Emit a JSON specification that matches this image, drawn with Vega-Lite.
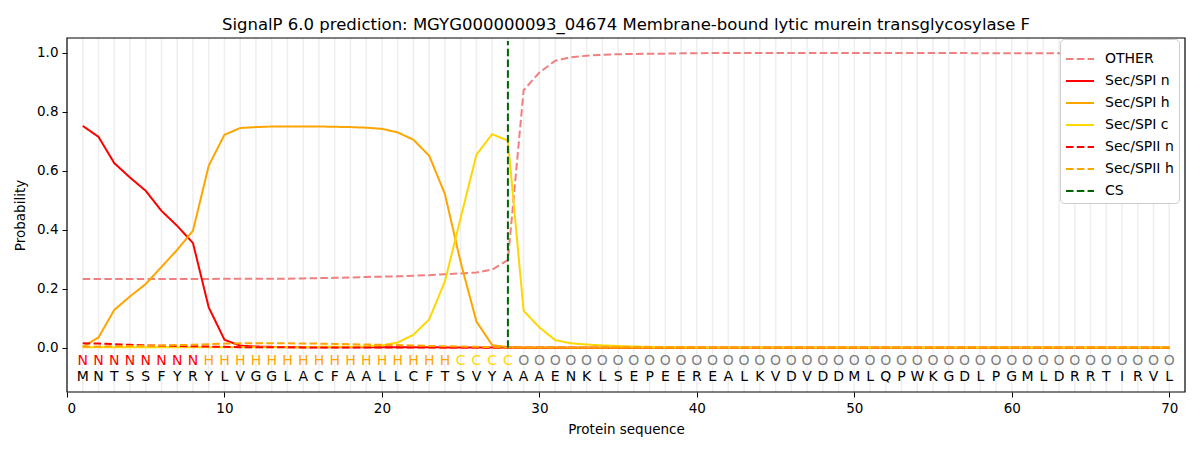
{
  "$schema": "https://vega.github.io/schema/vega-lite/v6.json",
  "title": {
    "text": "SignalP 6.0 prediction: MGYG000000093_04674 Membrane-bound lytic murein transglycosylase F",
    "fontSize": 16.5,
    "fontWeight": "normal",
    "font": "DejaVu Sans",
    "color": "#000000",
    "offset": 4
  },
  "autosize": "none",
  "padding": {"left": 67, "top": 38, "right": 15, "bottom": 58},
  "width": 1118,
  "height": 354,
  "config": {
    "font": "DejaVu Sans",
    "view": {"stroke": null},
    "axis": {
      "grid": false,
      "domain": false,
      "tickColor": "#000000",
      "tickSize": 5,
      "labelFontSize": 13.5,
      "titleFontSize": 13.5,
      "labelColor": "#000000",
      "titleColor": "#000000",
      "titleFontWeight": "normal",
      "labelFont": "DejaVu Sans",
      "titleFont": "DejaVu Sans"
    },
    "legend": {
      "orient": "none",
      "legendX": 993,
      "legendY": 1,
      "fillColor": "#ffffff",
      "strokeColor": "#cccccc",
      "cornerRadius": 4,
      "padding": 5,
      "labelFontSize": 14,
      "labelFont": "DejaVu Sans",
      "labelColor": "#000000",
      "symbolType": "stroke",
      "symbolStrokeWidth": 2,
      "symbolSize": 784,
      "rowPadding": -1,
      "labelOffset": 10,
      "labelLimit": 0
    }
  },
  "data": {
    "values": [
      {"pos": 1, "aa": "M", "lab": "N", "OTHER": 0.233, "Sec/SPI n": 0.752, "Sec/SPI h": 0.003, "Sec/SPI c": 0.002, "Sec/SPII n": 0.015, "Sec/SPII h": 0.003},
      {"pos": 2, "aa": "N", "lab": "N", "OTHER": 0.233, "Sec/SPI n": 0.715, "Sec/SPI h": 0.035, "Sec/SPI c": 0.002, "Sec/SPII n": 0.014, "Sec/SPII h": 0.004},
      {"pos": 3, "aa": "T", "lab": "N", "OTHER": 0.233, "Sec/SPI n": 0.626, "Sec/SPI h": 0.128, "Sec/SPI c": 0.002, "Sec/SPII n": 0.012, "Sec/SPII h": 0.005},
      {"pos": 4, "aa": "S", "lab": "N", "OTHER": 0.233, "Sec/SPI n": 0.577, "Sec/SPI h": 0.174, "Sec/SPI c": 0.002, "Sec/SPII n": 0.01, "Sec/SPII h": 0.006},
      {"pos": 5, "aa": "S", "lab": "N", "OTHER": 0.233, "Sec/SPI n": 0.532, "Sec/SPI h": 0.216, "Sec/SPI c": 0.002, "Sec/SPII n": 0.008, "Sec/SPII h": 0.007},
      {"pos": 6, "aa": "F", "lab": "N", "OTHER": 0.233, "Sec/SPI n": 0.464, "Sec/SPI h": 0.274, "Sec/SPI c": 0.002, "Sec/SPII n": 0.007, "Sec/SPII h": 0.008},
      {"pos": 7, "aa": "Y", "lab": "N", "OTHER": 0.233, "Sec/SPI n": 0.413, "Sec/SPI h": 0.332, "Sec/SPI c": 0.002, "Sec/SPII n": 0.006, "Sec/SPII h": 0.009},
      {"pos": 8, "aa": "R", "lab": "N", "OTHER": 0.233, "Sec/SPI n": 0.355, "Sec/SPI h": 0.397, "Sec/SPI c": 0.002, "Sec/SPII n": 0.005, "Sec/SPII h": 0.01},
      {"pos": 9, "aa": "Y", "lab": "H", "OTHER": 0.233, "Sec/SPI n": 0.137, "Sec/SPI h": 0.617, "Sec/SPI c": 0.002, "Sec/SPII n": 0.004, "Sec/SPII h": 0.012},
      {"pos": 10, "aa": "L", "lab": "H", "OTHER": 0.234, "Sec/SPI n": 0.027, "Sec/SPI h": 0.722, "Sec/SPI c": 0.002, "Sec/SPII n": 0.003, "Sec/SPII h": 0.014},
      {"pos": 11, "aa": "V", "lab": "H", "OTHER": 0.234, "Sec/SPI n": 0.007, "Sec/SPI h": 0.745, "Sec/SPI c": 0.002, "Sec/SPII n": 0.002, "Sec/SPII h": 0.015},
      {"pos": 12, "aa": "G", "lab": "H", "OTHER": 0.234, "Sec/SPI n": 0.004, "Sec/SPI h": 0.748, "Sec/SPI c": 0.002, "Sec/SPII n": 0.002, "Sec/SPII h": 0.015},
      {"pos": 13, "aa": "G", "lab": "H", "OTHER": 0.234, "Sec/SPI n": 0.003, "Sec/SPI h": 0.75, "Sec/SPI c": 0.002, "Sec/SPII n": 0.002, "Sec/SPII h": 0.015},
      {"pos": 14, "aa": "L", "lab": "H", "OTHER": 0.234, "Sec/SPI n": 0.002, "Sec/SPI h": 0.75, "Sec/SPI c": 0.002, "Sec/SPII n": 0.002, "Sec/SPII h": 0.015},
      {"pos": 15, "aa": "A", "lab": "H", "OTHER": 0.235, "Sec/SPI n": 0.002, "Sec/SPI h": 0.75, "Sec/SPI c": 0.002, "Sec/SPII n": 0.001, "Sec/SPII h": 0.014},
      {"pos": 16, "aa": "C", "lab": "H", "OTHER": 0.236, "Sec/SPI n": 0.002, "Sec/SPI h": 0.75, "Sec/SPI c": 0.003, "Sec/SPII n": 0.001, "Sec/SPII h": 0.014},
      {"pos": 17, "aa": "F", "lab": "H", "OTHER": 0.237, "Sec/SPI n": 0.002, "Sec/SPI h": 0.749, "Sec/SPI c": 0.003, "Sec/SPII n": 0.001, "Sec/SPII h": 0.013},
      {"pos": 18, "aa": "A", "lab": "H", "OTHER": 0.238, "Sec/SPI n": 0.002, "Sec/SPI h": 0.748, "Sec/SPI c": 0.003, "Sec/SPII n": 0.001, "Sec/SPII h": 0.012},
      {"pos": 19, "aa": "A", "lab": "H", "OTHER": 0.24, "Sec/SPI n": 0.002, "Sec/SPI h": 0.746, "Sec/SPI c": 0.005, "Sec/SPII n": 0.001, "Sec/SPII h": 0.011},
      {"pos": 20, "aa": "L", "lab": "H", "OTHER": 0.241, "Sec/SPI n": 0.002, "Sec/SPI h": 0.742, "Sec/SPI c": 0.008, "Sec/SPII n": 0.001, "Sec/SPII h": 0.01},
      {"pos": 21, "aa": "L", "lab": "H", "OTHER": 0.242, "Sec/SPI n": 0.002, "Sec/SPI h": 0.73, "Sec/SPI c": 0.018, "Sec/SPII n": 0.001, "Sec/SPII h": 0.009},
      {"pos": 22, "aa": "C", "lab": "H", "OTHER": 0.244, "Sec/SPI n": 0.002, "Sec/SPI h": 0.705, "Sec/SPI c": 0.044, "Sec/SPII n": 0.001, "Sec/SPII h": 0.008},
      {"pos": 23, "aa": "F", "lab": "H", "OTHER": 0.246, "Sec/SPI n": 0.002, "Sec/SPI h": 0.651, "Sec/SPI c": 0.096, "Sec/SPII n": 0.001, "Sec/SPII h": 0.006},
      {"pos": 24, "aa": "T", "lab": "H", "OTHER": 0.249, "Sec/SPI n": 0.001, "Sec/SPI h": 0.521, "Sec/SPI c": 0.225, "Sec/SPII n": 0.001, "Sec/SPII h": 0.005},
      {"pos": 25, "aa": "S", "lab": "C", "OTHER": 0.252, "Sec/SPI n": 0.001, "Sec/SPI h": 0.29, "Sec/SPI c": 0.44, "Sec/SPII n": 0.001, "Sec/SPII h": 0.004},
      {"pos": 26, "aa": "V", "lab": "C", "OTHER": 0.255, "Sec/SPI n": 0.001, "Sec/SPI h": 0.089, "Sec/SPI c": 0.654, "Sec/SPII n": 0.001, "Sec/SPII h": 0.003},
      {"pos": 27, "aa": "Y", "lab": "C", "OTHER": 0.265, "Sec/SPI n": 0.001, "Sec/SPI h": 0.009, "Sec/SPI c": 0.724, "Sec/SPII n": 0.0, "Sec/SPII h": 0.002},
      {"pos": 28, "aa": "A", "lab": "C", "OTHER": 0.297, "Sec/SPI n": 0.001, "Sec/SPI h": 0.002, "Sec/SPI c": 0.702, "Sec/SPII n": 0.0, "Sec/SPII h": 0.001},
      {"pos": 29, "aa": "A", "lab": "O", "OTHER": 0.873, "Sec/SPI n": 0.0, "Sec/SPI h": 0.001, "Sec/SPI c": 0.125, "Sec/SPII n": 0.0, "Sec/SPII h": 0.0},
      {"pos": 30, "aa": "A", "lab": "O", "OTHER": 0.933, "Sec/SPI n": 0.0, "Sec/SPI h": 0.001, "Sec/SPI c": 0.069, "Sec/SPII n": 0.0, "Sec/SPII h": 0.0},
      {"pos": 31, "aa": "E", "lab": "O", "OTHER": 0.973, "Sec/SPI n": 0.0, "Sec/SPI h": 0.001, "Sec/SPI c": 0.026, "Sec/SPII n": 0.0, "Sec/SPII h": 0.0},
      {"pos": 32, "aa": "N", "lab": "O", "OTHER": 0.985, "Sec/SPI n": 0.0, "Sec/SPI h": 0.0, "Sec/SPI c": 0.015, "Sec/SPII n": 0.0, "Sec/SPII h": 0.0},
      {"pos": 33, "aa": "K", "lab": "O", "OTHER": 0.99, "Sec/SPI n": 0.0, "Sec/SPI h": 0.0, "Sec/SPI c": 0.011, "Sec/SPII n": 0.0, "Sec/SPII h": 0.0},
      {"pos": 34, "aa": "L", "lab": "O", "OTHER": 0.993, "Sec/SPI n": 0.0, "Sec/SPI h": 0.0, "Sec/SPI c": 0.008, "Sec/SPII n": 0.0, "Sec/SPII h": 0.0},
      {"pos": 35, "aa": "S", "lab": "O", "OTHER": 0.995, "Sec/SPI n": 0.0, "Sec/SPI h": 0.0, "Sec/SPI c": 0.006, "Sec/SPII n": 0.0, "Sec/SPII h": 0.0},
      {"pos": 36, "aa": "E", "lab": "O", "OTHER": 0.996, "Sec/SPI n": 0.0, "Sec/SPI h": 0.0, "Sec/SPI c": 0.004, "Sec/SPII n": 0.0, "Sec/SPII h": 0.0},
      {"pos": 37, "aa": "P", "lab": "O", "OTHER": 0.997, "Sec/SPI n": 0.0, "Sec/SPI h": 0.0, "Sec/SPI c": 0.003, "Sec/SPII n": 0.0, "Sec/SPII h": 0.0},
      {"pos": 38, "aa": "E", "lab": "O", "OTHER": 0.997, "Sec/SPI n": 0.0, "Sec/SPI h": 0.0, "Sec/SPI c": 0.002, "Sec/SPII n": 0.0, "Sec/SPII h": 0.0},
      {"pos": 39, "aa": "E", "lab": "O", "OTHER": 0.998, "Sec/SPI n": 0.0, "Sec/SPI h": 0.0, "Sec/SPI c": 0.002, "Sec/SPII n": 0.0, "Sec/SPII h": 0.0},
      {"pos": 40, "aa": "R", "lab": "O", "OTHER": 0.998, "Sec/SPI n": 0.0, "Sec/SPI h": 0.0, "Sec/SPI c": 0.001, "Sec/SPII n": 0.0, "Sec/SPII h": 0.0},
      {"pos": 41, "aa": "E", "lab": "O", "OTHER": 0.999, "Sec/SPI n": 0.0, "Sec/SPI h": 0.0, "Sec/SPI c": 0.001, "Sec/SPII n": 0.0, "Sec/SPII h": 0.0},
      {"pos": 42, "aa": "A", "lab": "O", "OTHER": 0.999, "Sec/SPI n": 0.0, "Sec/SPI h": 0.0, "Sec/SPI c": 0.001, "Sec/SPII n": 0.0, "Sec/SPII h": 0.0},
      {"pos": 43, "aa": "L", "lab": "O", "OTHER": 0.999, "Sec/SPI n": 0.0, "Sec/SPI h": 0.0, "Sec/SPI c": 0.001, "Sec/SPII n": 0.0, "Sec/SPII h": 0.0},
      {"pos": 44, "aa": "K", "lab": "O", "OTHER": 0.999, "Sec/SPI n": 0.0, "Sec/SPI h": 0.0, "Sec/SPI c": 0.001, "Sec/SPII n": 0.0, "Sec/SPII h": 0.0},
      {"pos": 45, "aa": "V", "lab": "O", "OTHER": 0.999, "Sec/SPI n": 0.0, "Sec/SPI h": 0.0, "Sec/SPI c": 0.001, "Sec/SPII n": 0.0, "Sec/SPII h": 0.0},
      {"pos": 46, "aa": "D", "lab": "O", "OTHER": 0.999, "Sec/SPI n": 0.0, "Sec/SPI h": 0.0, "Sec/SPI c": 0.001, "Sec/SPII n": 0.0, "Sec/SPII h": 0.0},
      {"pos": 47, "aa": "V", "lab": "O", "OTHER": 0.999, "Sec/SPI n": 0.0, "Sec/SPI h": 0.0, "Sec/SPI c": 0.001, "Sec/SPII n": 0.0, "Sec/SPII h": 0.0},
      {"pos": 48, "aa": "D", "lab": "O", "OTHER": 0.999, "Sec/SPI n": 0.0, "Sec/SPI h": 0.0, "Sec/SPI c": 0.001, "Sec/SPII n": 0.0, "Sec/SPII h": 0.0},
      {"pos": 49, "aa": "D", "lab": "O", "OTHER": 0.999, "Sec/SPI n": 0.0, "Sec/SPI h": 0.0, "Sec/SPI c": 0.001, "Sec/SPII n": 0.0, "Sec/SPII h": 0.0},
      {"pos": 50, "aa": "M", "lab": "O", "OTHER": 0.999, "Sec/SPI n": 0.0, "Sec/SPI h": 0.0, "Sec/SPI c": 0.001, "Sec/SPII n": 0.0, "Sec/SPII h": 0.0},
      {"pos": 51, "aa": "L", "lab": "O", "OTHER": 0.999, "Sec/SPI n": 0.0, "Sec/SPI h": 0.0, "Sec/SPI c": 0.001, "Sec/SPII n": 0.0, "Sec/SPII h": 0.0},
      {"pos": 52, "aa": "Q", "lab": "O", "OTHER": 0.999, "Sec/SPI n": 0.0, "Sec/SPI h": 0.0, "Sec/SPI c": 0.001, "Sec/SPII n": 0.0, "Sec/SPII h": 0.0},
      {"pos": 53, "aa": "P", "lab": "O", "OTHER": 0.999, "Sec/SPI n": 0.0, "Sec/SPI h": 0.0, "Sec/SPI c": 0.001, "Sec/SPII n": 0.0, "Sec/SPII h": 0.0},
      {"pos": 54, "aa": "W", "lab": "O", "OTHER": 0.999, "Sec/SPI n": 0.0, "Sec/SPI h": 0.0, "Sec/SPI c": 0.001, "Sec/SPII n": 0.0, "Sec/SPII h": 0.0},
      {"pos": 55, "aa": "K", "lab": "O", "OTHER": 0.999, "Sec/SPI n": 0.0, "Sec/SPI h": 0.0, "Sec/SPI c": 0.001, "Sec/SPII n": 0.0, "Sec/SPII h": 0.0},
      {"pos": 56, "aa": "G", "lab": "O", "OTHER": 0.999, "Sec/SPI n": 0.0, "Sec/SPI h": 0.0, "Sec/SPI c": 0.001, "Sec/SPII n": 0.0, "Sec/SPII h": 0.0},
      {"pos": 57, "aa": "D", "lab": "O", "OTHER": 0.999, "Sec/SPI n": 0.0, "Sec/SPI h": 0.0, "Sec/SPI c": 0.001, "Sec/SPII n": 0.0, "Sec/SPII h": 0.0},
      {"pos": 58, "aa": "L", "lab": "O", "OTHER": 0.998, "Sec/SPI n": 0.0, "Sec/SPI h": 0.0, "Sec/SPI c": 0.001, "Sec/SPII n": 0.0, "Sec/SPII h": 0.0},
      {"pos": 59, "aa": "P", "lab": "O", "OTHER": 0.998, "Sec/SPI n": 0.0, "Sec/SPI h": 0.0, "Sec/SPI c": 0.001, "Sec/SPII n": 0.0, "Sec/SPII h": 0.0},
      {"pos": 60, "aa": "G", "lab": "O", "OTHER": 0.998, "Sec/SPI n": 0.0, "Sec/SPI h": 0.0, "Sec/SPI c": 0.001, "Sec/SPII n": 0.0, "Sec/SPII h": 0.0},
      {"pos": 61, "aa": "M", "lab": "O", "OTHER": 0.998, "Sec/SPI n": 0.0, "Sec/SPI h": 0.0, "Sec/SPI c": 0.001, "Sec/SPII n": 0.0, "Sec/SPII h": 0.0},
      {"pos": 62, "aa": "L", "lab": "O", "OTHER": 0.998, "Sec/SPI n": 0.0, "Sec/SPI h": 0.0, "Sec/SPI c": 0.001, "Sec/SPII n": 0.0, "Sec/SPII h": 0.0},
      {"pos": 63, "aa": "D", "lab": "O", "OTHER": 0.998, "Sec/SPI n": 0.0, "Sec/SPI h": 0.0, "Sec/SPI c": 0.001, "Sec/SPII n": 0.0, "Sec/SPII h": 0.0},
      {"pos": 64, "aa": "R", "lab": "O", "OTHER": 0.997, "Sec/SPI n": 0.0, "Sec/SPI h": 0.0, "Sec/SPI c": 0.001, "Sec/SPII n": 0.0, "Sec/SPII h": 0.0},
      {"pos": 65, "aa": "R", "lab": "O", "OTHER": 0.997, "Sec/SPI n": 0.0, "Sec/SPI h": 0.0, "Sec/SPI c": 0.001, "Sec/SPII n": 0.0, "Sec/SPII h": 0.0},
      {"pos": 66, "aa": "T", "lab": "O", "OTHER": 0.997, "Sec/SPI n": 0.0, "Sec/SPI h": 0.0, "Sec/SPI c": 0.001, "Sec/SPII n": 0.0, "Sec/SPII h": 0.0},
      {"pos": 67, "aa": "I", "lab": "O", "OTHER": 0.997, "Sec/SPI n": 0.0, "Sec/SPI h": 0.0, "Sec/SPI c": 0.001, "Sec/SPII n": 0.0, "Sec/SPII h": 0.0},
      {"pos": 68, "aa": "R", "lab": "O", "OTHER": 0.997, "Sec/SPI n": 0.0, "Sec/SPI h": 0.0, "Sec/SPI c": 0.001, "Sec/SPII n": 0.0, "Sec/SPII h": 0.0},
      {"pos": 69, "aa": "V", "lab": "O", "OTHER": 0.997, "Sec/SPI n": 0.0, "Sec/SPI h": 0.0, "Sec/SPI c": 0.001, "Sec/SPII n": 0.0, "Sec/SPII h": 0.0},
      {"pos": 70, "aa": "L", "lab": "O", "OTHER": 0.996, "Sec/SPI n": 0.0, "Sec/SPI h": 0.0, "Sec/SPI c": 0.001, "Sec/SPII n": 0.0, "Sec/SPII h": 0.0}
    ]
  },
  "layer": [
    {
      "mark": {"type": "rule", "color": "#eeeeee", "strokeWidth": 1.5},
      "encoding": {
        "x": {"field": "pos", "type": "quantitative", "scale": {"domain": [0, 71], "nice": false, "zero": false}}
      }
    },
    {
      "transform": [
        {"fold": ["OTHER", "Sec/SPI n", "Sec/SPI h", "Sec/SPI c", "Sec/SPII n", "Sec/SPII h"], "as": ["series", "prob"]}
      ],
      "mark": {"type": "line", "strokeWidth": 2},
      "encoding": {
        "x": {
          "field": "pos",
          "type": "quantitative",
          "title": "Protein sequence",
          "axis": {"values": [0, 10, 20, 30, 40, 50, 60, 70], "titlePadding": 8, "labelPadding": 4}
        },
        "y": {
          "field": "prob",
          "type": "quantitative",
          "title": "Probability",
          "scale": {"domain": [-0.15, 1.05], "nice": false, "zero": false},
          "axis": {"values": [0, 0.2, 0.4, 0.6, 0.8, 1.0], "format": ".1f", "titlePadding": 9, "labelPadding": 4}
        },
        "color": {
          "field": "series",
          "type": "nominal",
          "title": null,
          "sort": null,
          "scale": {
            "domain": ["OTHER", "Sec/SPI n", "Sec/SPI h", "Sec/SPI c", "Sec/SPII n", "Sec/SPII h", "CS"],
            "range": ["#f08080", "#ff0000", "#ffa500", "#ffd700", "#ff0000", "#ffa500", "#006400"]
          }
        },
        "strokeDash": {
          "field": "series",
          "type": "nominal",
          "title": null,
          "sort": null,
          "scale": {
            "domain": ["OTHER", "Sec/SPI n", "Sec/SPI h", "Sec/SPI c", "Sec/SPII n", "Sec/SPII h", "CS"],
            "range": [[7.5, 3.3], [1, 0], [1, 0], [1, 0], [7.5, 3.3], [7.5, 3.3], [7.5, 3.3]]
          }
        }
      }
    },
    {
      "data": {"values": [{"series": "CS", "pos": 28, "lo": 0, "hi": 1.04}]},
      "mark": {"type": "rule", "strokeWidth": 2},
      "encoding": {
        "x": {"field": "pos", "type": "quantitative"},
        "y": {"field": "lo", "type": "quantitative"},
        "y2": {"field": "hi"},
        "color": {"field": "series", "type": "nominal"},
        "strokeDash": {"field": "series", "type": "nominal"}
      }
    },
    {
      "mark": {"type": "text", "fontSize": 14, "baseline": "middle", "font": "DejaVu Sans"},
      "encoding": {
        "x": {"field": "pos", "type": "quantitative"},
        "y": {"datum": -0.045},
        "text": {"field": "lab"},
        "color": {
          "condition": [
            {"test": "datum.lab === 'N'", "value": "#ff0000"},
            {"test": "datum.lab === 'H'", "value": "#ffa500"},
            {"test": "datum.lab === 'C'", "value": "#ffd700"}
          ],
          "value": "#808080"
        }
      }
    },
    {
      "mark": {"type": "text", "fontSize": 14, "baseline": "middle", "font": "DejaVu Sans", "color": "#000000"},
      "encoding": {
        "x": {"field": "pos", "type": "quantitative"},
        "y": {"datum": -0.1},
        "text": {"field": "aa"}
      }
    },
    {
      "data": {"values": [{}]},
      "mark": {"type": "rect", "fill": null, "stroke": "#000000", "strokeWidth": 1.2},
      "encoding": {
        "x": {"datum": 0},
        "x2": {"datum": 71},
        "y": {"datum": -0.15},
        "y2": {"datum": 1.05}
      }
    }
  ]
}
